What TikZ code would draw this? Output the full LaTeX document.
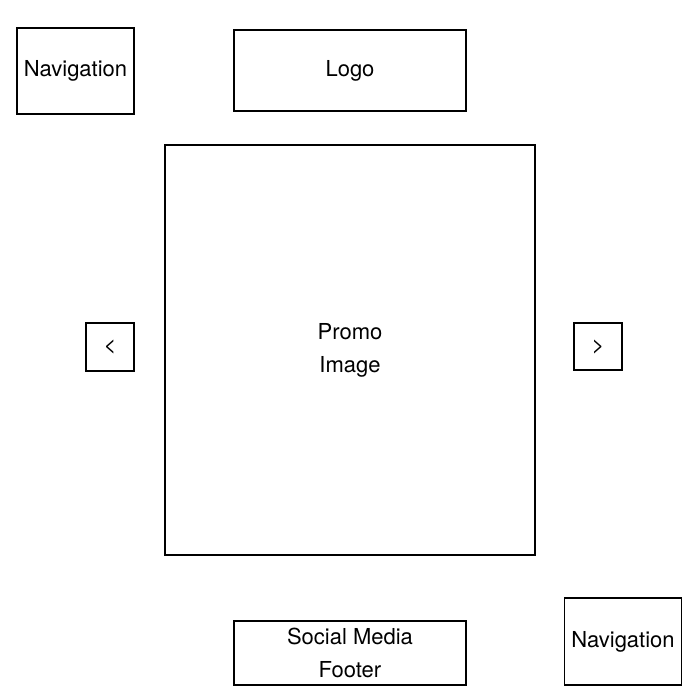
\documentclass[tikz,border=0pt]{standalone}
\usepackage{fontspec}
\setmainfont{TeX Gyre Heros}
\usepackage{tikz}
\usetikzlibrary{positioning}
\tikzstyle{box} = [draw=black, line width=1.4pt, inner sep=0pt, align=center, font=\fontsize{22}{33}\selectfont]

\begin{document}
\begin{tikzpicture}[x=1pt, y=-1pt]
	\useasboundingbox (0,0) rectangle (700,700);
	\node[box, minimum width=117pt, minimum height=86pt] (navtop) at (75.5,71) {Navigation};
	\node[box, minimum width=232pt, minimum height=81pt] (logo) at (350,70.5) {Logo};
	\node[box, minimum width=370pt, minimum height=410pt] (promo) at (350,350) {Promo\\Image};
	\node[box, minimum width=48pt, minimum height=48pt] (prev) at (110,347) {<};
	\node[box, minimum width=48pt, minimum height=47pt] (next) at (598,346.5) {>};
	\node[box, minimum width=232pt, minimum height=64pt] (footer) at (350,653) {Social Media\\Footer};
	\node[box, minimum width=117pt, minimum height=87pt] (navbottom) at (623,641.5) {Navigation};
\end{tikzpicture}
\end{document}
